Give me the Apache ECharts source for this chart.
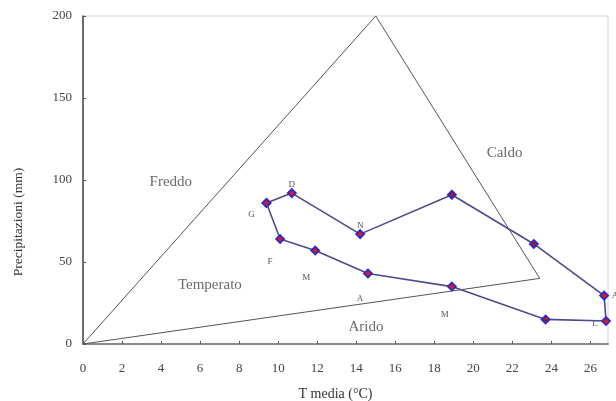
<!DOCTYPE html>
<html>
<head>
<meta charset="utf-8">
<script src="https://cdn.jsdelivr.net/npm/echarts@6/dist/echarts.min.js"></script>
<style>
  html, body { margin: 0; padding: 0; background: #fff; }
  #chart { width: 616px; height: 401px; }
</style>
</head>
<body>
<div id="chart"></div>
<script>
// Monthly climate (Gennaio → Dicembre)
var months = ['G', 'F', 'M', 'A', 'M', 'G', 'L', 'A', 'S', 'O', 'N', 'D'];
var tempMedia = [9.4, 10.1, 11.9, 14.6, 18.9, 23.7, 26.8, 26.7, 23.1, 18.9, 14.2, 10.7];
var precip = [86, 64, 57, 43, 35, 15, 14, 29.5, 61, 91, 67, 92];

// Climate-zone triangle outline
var triangleT = [0, 15, 23.4, 0];
var triangleP = [0, 200, 40, 0];

// Zone names and where they sit
var zoneNames = ['Freddo', 'Caldo', 'Temperato', 'Arido'];
var zoneT = [4.5, 21.6, 6.5, 14.5];
var zoneP = [99, 116.5, 36, 10.5];

// Axis ticks
var xTicks = { min: 0, max: 26.9, interval: 2 };
var yTicks = { min: 0, max: 200, interval: 50 };

// Month label placement around each marker [dx, dy]
var monthLabelOffset = [
  [-15, 12], [-10, 23], [-9, 27], [-8, 25], [-7, 28], [0, 0],
  [-11, 3], [11, 0], [0, 0], [0, 0], [0, -8], [0, -8]
];

var serif = '"Liberation Serif", "DejaVu Serif", serif';

var loopData = [];
for (var i = 0; i < months.length; i++) {
  var off = monthLabelOffset[i];
  var onMarker = off[0] === 0 && off[1] === 0;
  loopData.push({
    value: [tempMedia[i], precip[i]],
    label: {
      show: true,
      formatter: months[i],
      position: 'inside',
      offset: off,
      fontSize: onMarker ? 6 : 9,
      color: onMarker ? '#222' : '#555',
      fontFamily: serif
    }
  });
}
// close the yearly loop back to January
loopData.push({ value: [tempMedia[0], precip[0]], label: { show: false } });

var triData = triangleT.map(function (t, i) { return [t, triangleP[i]]; });
var zoneData = zoneNames.map(function (n, i) { return { name: n, value: [zoneT[i], zoneP[i]] }; });

var chart = echarts.init(document.getElementById('chart'), null, { renderer: 'canvas' });
chart.setOption({
  backgroundColor: '#ffffff',
  animation: false,
  grid: {
    left: 83, right: 8, top: 16, bottom: 57,
    outerBoundsMode: 'none',
    containLabel: false,
    show: true, borderColor: '#d4d4d4', borderWidth: 1, backgroundColor: 'transparent'
  },
  xAxis: {
    type: 'value',
    min: xTicks.min, max: xTicks.max, interval: xTicks.interval,
    name: 'T media (°C)',
    nameLocation: 'middle',
    nameGap: 43,
    nameTextStyle: { fontFamily: serif, fontSize: 14, color: '#333', padding: [0, 20, 0, 0] },
    axisLine: { show: true, lineStyle: { color: '#8a8a8a', width: 2 } },
    axisTick: { show: true, inside: true, length: 3, lineStyle: { color: '#555' } },
    axisLabel: { showMaxLabel: false, margin: 18, fontFamily: serif, fontSize: 13, color: '#444' },
    splitLine: { show: false }
  },
  yAxis: {
    type: 'value',
    min: yTicks.min, max: yTicks.max, interval: yTicks.interval,
    name: 'Precipitazioni (mm)',
    nameLocation: 'middle',
    nameGap: 58,
    nameRotate: 90,
    nameTextStyle: { fontFamily: serif, fontSize: 13.5, color: '#333', padding: [0, 84, 0, 0] },
    axisLine: { show: true, lineStyle: { color: '#444', width: 1.5 } },
    axisTick: { show: true, inside: true, length: 3, lineStyle: { color: '#555' } },
    axisLabel: { margin: 11, fontFamily: serif, fontSize: 13, color: '#444' },
    splitLine: { show: false }
  },
  series: [
    {
      name: 'zone',
      type: 'line',
      data: triData,
      symbol: 'none',
      lineStyle: { color: '#555555', width: 1 },
      z: 2,
      silent: true
    },
    {
      name: 'zone names',
      type: 'scatter',
      data: zoneData,
      symbolSize: 0,
      label: {
        show: true,
        position: 'inside',
        formatter: '{b}',
        fontFamily: serif,
        fontSize: 15,
        color: '#444'
      },
      z: 3,
      silent: true
    },
    {
      name: 'clima',
      type: 'line',
      data: loopData,
      symbol: 'diamond',
      symbolSize: 8,
      itemStyle: { color: '#e01818', borderColor: '#2a2ad0', borderWidth: 1.8 },
      lineStyle: { color: '#4b4b90', width: 1.6 },
      z: 5
    }
  ]
});
</script>
</body>
</html>
